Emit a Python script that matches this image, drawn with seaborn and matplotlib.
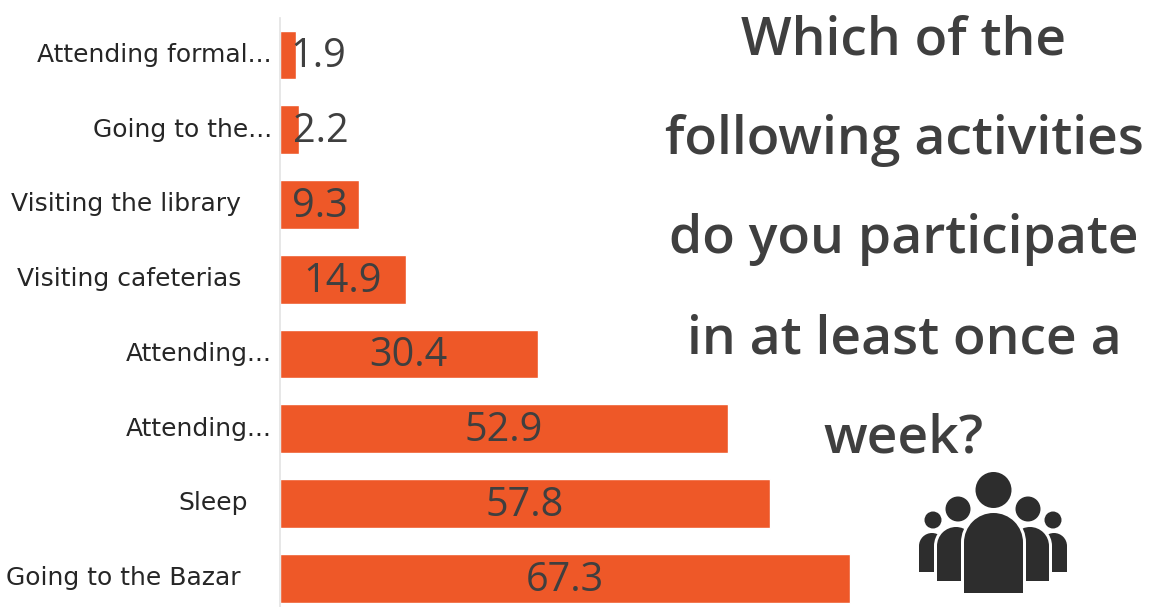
#!/usr/bin/env python3
import matplotlib
matplotlib.use("Agg")
import matplotlib.pyplot as plt
from matplotlib.patches import Circle, Ellipse, Rectangle
import seaborn as sns
import pandas as pd

# chart values, top to bottom
activities = [
    "Attending formal...",
    "Going to the...",
    "Visiting the library",
    "Visiting cafeterias",
    "Attending...",
    "Attending...",
    "Sleep",
    "Going to the Bazar",
]
percent = [1.9, 2.2, 9.3, 14.9, 30.4, 52.9, 57.8, 67.3]
title_lines = [
    "Which of the",
    "following activities",
    "do you participate",
    "in at least once a",
    "week?",
]

BAR_COLOR = "#EE5828"
TEXT_COLOR = "#3f3f3f"
ICON = "#2d2d2d"
W, H = 1155, 607

sns.set_theme(style="white")
plt.rcParams["font.family"] = ["Open Sans", "DejaVu Sans"]

fig = plt.figure(figsize=(W / 100, H / 100), dpi=100)
ax = fig.add_axes([280 / W, 0, 1 - 280 / W, 1 - 18 / H])

df = pd.DataFrame({"row": range(len(percent)), "percent": percent})
sns.barplot(data=df, y="row", x="percent", orient="h", color=BAR_COLOR,
            saturation=1, width=0.65, ax=ax)
ax.set_xlim(0, 103.3)
ax.set_ylim(7.385, -0.495)
ax.set_xlabel("")
ax.set_ylabel("")
ax.set_xticks([])
ax.set_yticks([])
sns.despine(ax=ax, top=True, right=True, bottom=True)
ax.spines["left"].set_color("#e4e4e4")

# value labels sit in the middle of the bar, or past it for the short ones
for i, v in enumerate(percent):
    x = v / 2 if v > 5 else v + 2.6
    ax.text(x, i + 0.03, f"{v:.1f}", ha="center", va="center", fontsize=28.5, color=TEXT_COLOR)

# category labels, the unclipped ones are pulled in from the axis a bit
pads = [8, 8, 39, 39, 8, 8, 32, 39]
for i, name in enumerate(activities):
    ax.annotate(name, xy=(0, i), xycoords=("data", "data"), xytext=(-pads[i] * 0.72, 0),
                textcoords="offset points", ha="right", va="center",
                fontsize=18, family="DejaVu Sans", color="#262626", annotation_clip=False)

# title on the right
title_y = [41, 140, 240, 340, 439]
for line, y in zip(title_lines, title_y):
    fig.text(904 / W, 1 - y / H, line, ha="center", va="center",
             fontsize=38.5, fontweight="semibold", color=TEXT_COLOR)

# people icon drawn in pixel space
icon = fig.add_axes([0, 0, 1, 1], facecolor="none")
icon.set_xlim(0, W)
icon.set_ylim(H, 0)
icon.axis("off")


def add_arch(x0, x1, top, bottom, color, grow=0):
    # body of a person: rectangle with a round top
    r = (x1 - x0) / 2
    icon.add_patch(Ellipse(((x0 + x1) / 2, top + r), 2 * r + 2 * grow, 2 * r + 2 * grow, color=color, lw=0))
    icon.add_patch(Rectangle((x0 - grow, top + r), x1 - x0 + 2 * grow, bottom - top - r, color=color, lw=0))


# outer people first, the ones in front cover them with a white gap
for x0, x1, top, bottom, cx, cy, r in [
    (919, 945, 533, 572, 933, 520, 8.5),
    (1041, 1067, 533, 572, 1053, 520, 8.5),
    (937, 975, 527, 581, 958, 509, 12.5),
    (1011, 1049, 527, 581, 1028, 509, 12.5),
    (964, 1023, 513, 593, 993.5, 490, 18),
]:
    add_arch(x0, x1, top, bottom, "white", grow=3)
    add_arch(x0, x1, top, bottom, ICON)
    icon.add_patch(Circle((cx, cy), r, color=ICON, lw=0))

fig.savefig("out.png", dpi=100)
